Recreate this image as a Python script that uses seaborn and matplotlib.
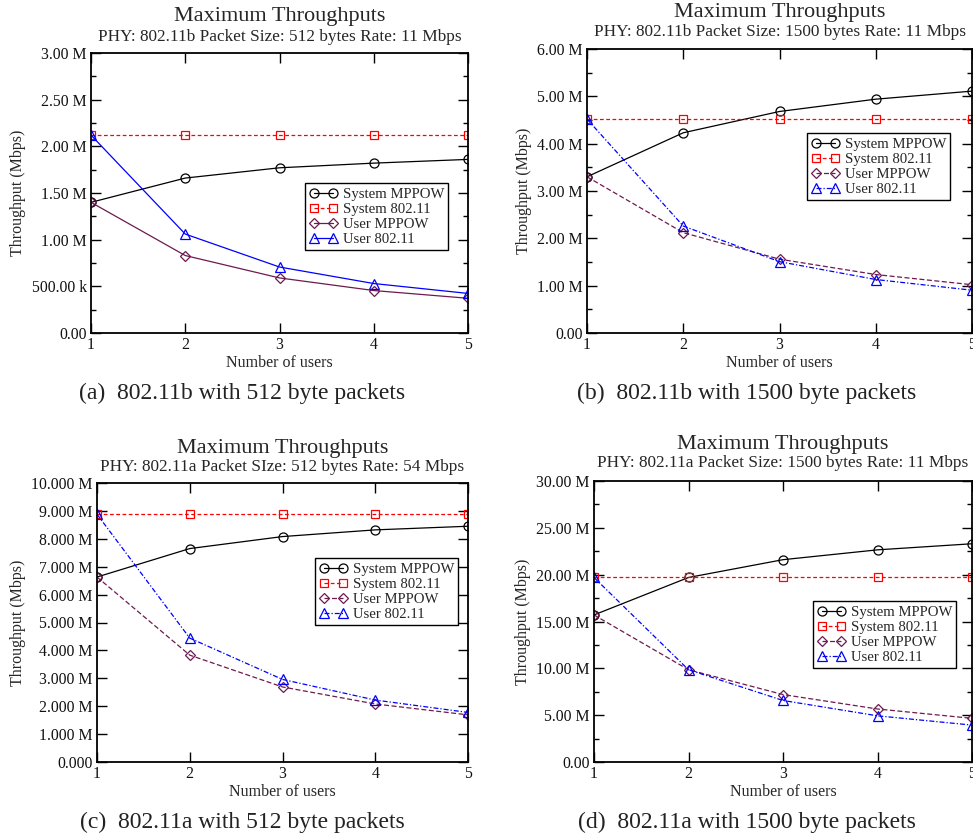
import numpy as np
import pandas as pd
import matplotlib
matplotlib.use("Agg")
import matplotlib.pyplot as plt
import seaborn as sns
from matplotlib.ticker import MultipleLocator

# ---- data (values in Mbps) ----
users = [1, 2, 3, 4, 5]

a_sys_mppow = [1.40, 1.66, 1.77, 1.82, 1.86]
a_sys_80211 = [2.12, 2.12, 2.12, 2.12, 2.12]
a_usr_mppow = [1.40, 0.83, 0.59, 0.455, 0.372]
a_usr_80211 = [2.12, 1.06, 0.707, 0.53, 0.424]

b_sys_mppow = [3.30, 4.23, 4.68, 4.94, 5.11]
b_sys_80211 = [4.52, 4.52, 4.52, 4.52, 4.52]
b_usr_mppow = [3.30, 2.12, 1.56, 1.235, 1.02]
b_usr_80211 = [4.52, 2.26, 1.507, 1.13, 0.904]

c_sys_mppow = [6.63, 7.65, 8.08, 8.32, 8.45]
c_sys_80211 = [8.88, 8.88, 8.88, 8.88, 8.88]
c_usr_mppow = [6.63, 3.83, 2.69, 2.08, 1.69]
c_usr_80211 = [8.88, 4.44, 2.96, 2.22, 1.776]

d_sys_mppow = [15.7, 19.7, 21.6, 22.65, 23.3]
d_sys_80211 = [19.7, 19.7, 19.7, 19.7, 19.7]
d_usr_mppow = [15.7, 9.85, 7.2, 5.66, 4.66]
d_usr_80211 = [19.7, 9.85, 6.57, 4.93, 3.94]

series_names = ["System MPPOW", "System 802.11", "User MPPOW", "User 802.11"]

a_yticks = [0, 0.5, 1.0, 1.5, 2.0, 2.5, 3.0]
a_ylabels = ["0.00", "500.00 k", "1.00 M", "1.50 M", "2.00 M", "2.50 M", "3.00 M"]
b_yticks = [0, 1, 2, 3, 4, 5, 6]
b_ylabels = ["0.00", "1.00 M", "2.00 M", "3.00 M", "4.00 M", "5.00 M", "6.00 M"]
c_yticks = [0, 1, 2, 3, 4, 5, 6, 7, 8, 9, 10]
c_ylabels = ["0.000"] + [f"{v}.000 M" for v in range(1, 11)]
d_yticks = [0, 5, 10, 15, 20, 25, 30]
d_ylabels = ["0.00", "5.00 M", "10.00 M", "15.00 M", "20.00 M", "25.00 M", "30.00 M"]

subtitles = [
    "PHY: 802.11b Packet Size: 512 bytes Rate: 11 Mbps",
    "PHY: 802.11b Packet Size: 1500 bytes Rate: 11 Mbps",
    "PHY: 802.11a Packet SIze: 512 bytes Rate: 54 Mbps",
    "PHY: 802.11a Packet Size: 1500 bytes Rate: 11 Mbps",
]
captions = [
    "(a)  802.11b with 512 byte packets",
    "(b)  802.11b with 1500 byte packets",
    "(c)  802.11a with 512 byte packets",
    "(d)  802.11a with 1500 byte packets",
]

# ---- styling ----
sns.set_theme(style="ticks")
plt.rcParams["font.family"] = ["Liberation Serif", "DejaVu Serif"]

W, H = 973, 840
fig = plt.figure(figsize=(W / 100, H / 100), dpi=100)
fig.patch.set_facecolor("white")

maroon = "#6e1a50"
colors = ["black", "#ff0000", maroon, "#0000ff"]
markers = ["o", "s", "D", "^"]
msizes = [6.5, 6, 5, 6.5]
dot_dash = (0, (4, 1.6, 1, 1.6))
styles_a = ["-", (0, (3, 2)), "-", "-"]
styles_bcd = ["-", (0, (3, 2)), (0, (4, 2)), dot_dash]

# panel boxes in pixels: left, top, right, bottom
boxes = [
    (91, 53, 468, 333),
    (587, 49, 972, 333),
    (97, 483, 468, 762),
    (594, 481, 972, 762),
]
legend_pos = [(305, 183), (807, 133), (315, 558), (813, 601)]
title_y = [(17, 37), (13, 32), (448, 467), (445, 463)]
caption_pos = [(242, 393), (747, 393), (242, 822), (747, 822)]

panels = [
    ([a_sys_mppow, a_sys_80211, a_usr_mppow, a_usr_80211], a_yticks, a_ylabels, 0.25, styles_a),
    ([b_sys_mppow, b_sys_80211, b_usr_mppow, b_usr_80211], b_yticks, b_ylabels, 0.5, styles_bcd),
    ([c_sys_mppow, c_sys_80211, c_usr_mppow, c_usr_80211], c_yticks, c_ylabels, None, styles_bcd),
    ([d_sys_mppow, d_sys_80211, d_usr_mppow, d_usr_80211], d_yticks, d_ylabels, 2.5, styles_bcd),
]

for i, (series, yticks, ylabels, minor, styles) in enumerate(panels):
    l, t, r, b = boxes[i]
    ax = fig.add_axes([l / W, 1 - b / H, (r - l) / W, (b - t) / H])
    for k, vals in enumerate(series):
        df = pd.DataFrame({"users": users, "thr": vals})
        sns.lineplot(data=df, x="users", y="thr", ax=ax, color=colors[k],
                     marker=markers[k], markersize=msizes[k],
                     markerfacecolor="none", markeredgecolor=colors[k],
                     markeredgewidth=0.9, linewidth=0.9,
                     linestyle=styles[k], label=series_names[k])
    ax.set_xlim(1, 5)
    ax.set_ylim(yticks[0], yticks[-1])
    ax.set_xticks(users)
    ax.set_xticklabels([str(u) for u in users])
    ax.set_yticks(yticks)
    ax.set_yticklabels(ylabels)
    if minor:
        ax.yaxis.set_minor_locator(MultipleLocator(minor))
    ax.tick_params(which="both", direction="in", top=True, right=True,
                   labelsize=11.3, pad=3, color="black", labelcolor="#111111")
    ax.tick_params(which="major", length=7, width=1.0)
    ax.tick_params(which="minor", length=3.5, width=1.0)
    for s in ax.spines.values():
        s.set_linewidth(1.3)
        s.set_color("black")
    ax.set_xlabel("Number of users", fontsize=11.5, labelpad=1)
    ax.set_ylabel("Throughput (Mbps)", fontsize=11.5, labelpad=4)
    ax.grid(False)

    lx, ly = legend_pos[i]
    leg = ax.legend(loc="upper left", bbox_to_anchor=(lx / W, 1 - ly / H),
                    bbox_transform=fig.transFigure, fontsize=10.6,
                    numpoints=2, handlelength=1.9, handletextpad=0.35,
                    labelspacing=0.12, borderpad=0.3, borderaxespad=0,
                    fancybox=False, framealpha=1, edgecolor="black")
    leg.get_frame().set_linewidth(1.0)

    cx = (l + r) / 2
    ty1, ty2 = title_y[i]
    fig.text(cx / W, 1 - ty1 / H, "Maximum Throughputs", fontsize=16,
             ha="center", va="center")
    fig.text(cx / W, 1 - ty2 / H, subtitles[i], fontsize=12.4,
             ha="center", va="center")
    capx, capy = caption_pos[i]
    fig.text(capx / W, 1 - capy / H, captions[i], fontsize=17,
             ha="center", va="center", color="#222222")

fig.savefig("out.png", dpi=100)
